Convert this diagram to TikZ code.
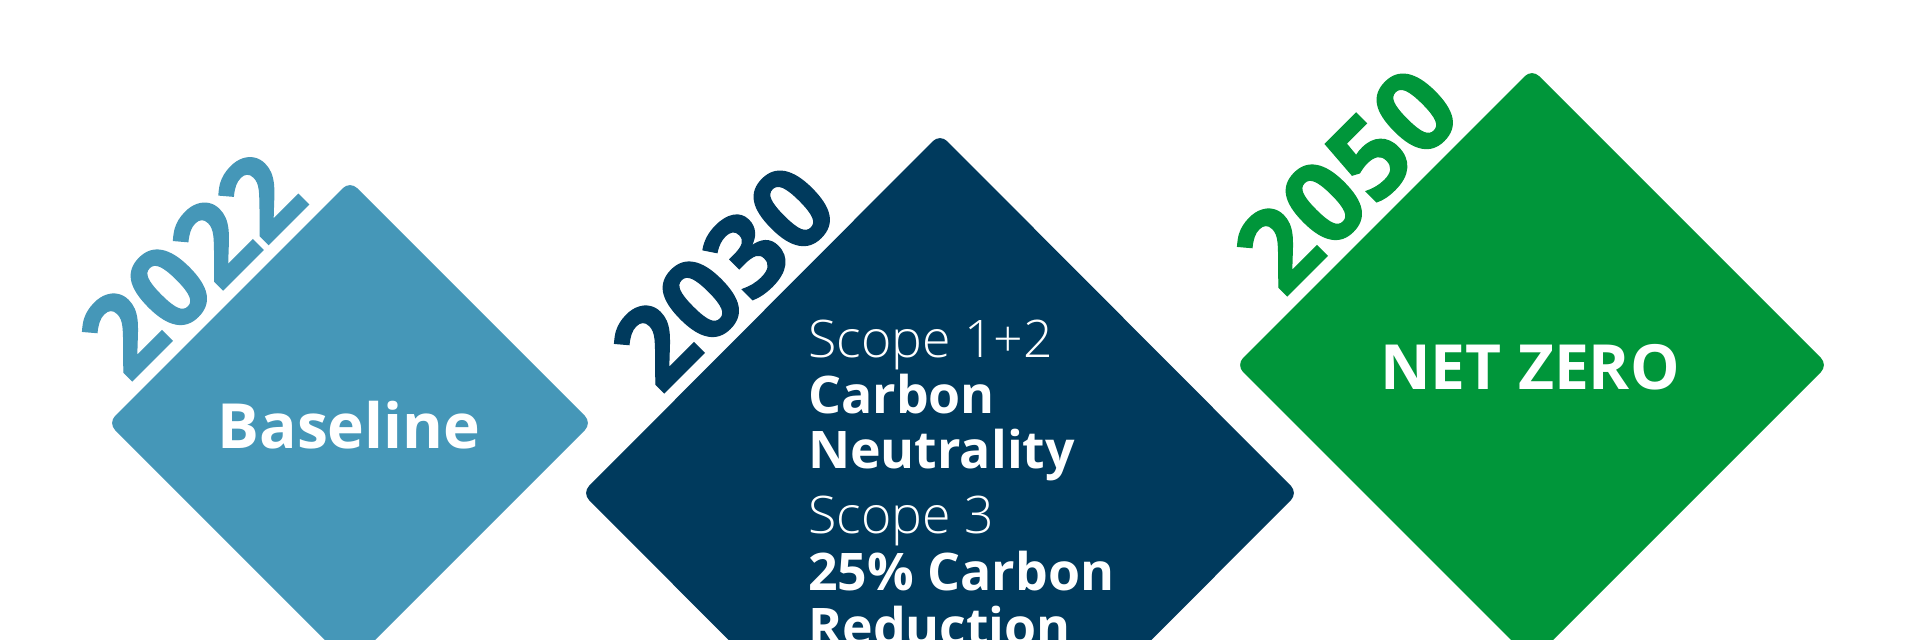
\documentclass[tikz,border=0pt]{standalone}
\usepackage{fontspec}
\setmainfont{Open Sans}
\IfFontExistsTF{Open Sans Light}{\newfontfamily\oslight{Open Sans Light}}{\newfontfamily\oslight{Open Sans}}
\newfontfamily\yearfont{Open Sans}[BoldFeatures={FakeBold=1.2}]
\definecolor{cbase}{HTML}{4597B8}
\definecolor{cnavy}{HTML}{003A5D}
\definecolor{cgreen}{HTML}{00963A}
\begin{document}
\begin{tikzpicture}[x=1bp,y=-1bp,
  diam/.style={rounded corners=10bp},
  year/.style={font=\yearfont\bfseries\fontsize{113}{113}\selectfont, anchor=base, rotate=45, inner sep=0pt},
  lbl/.style={font=\bfseries\fontsize{62.5}{62.5}\selectfont, text=white, anchor=base, inner sep=0pt},
  lightline/.style={font=\oslight\fontsize{52}{56}\selectfont, text=white, anchor=base west, inner sep=0pt},
  boldline/.style={font=\bfseries\fontsize{52}{56}\selectfont, text=white, anchor=base west, inner sep=0pt}]
\useasboundingbox (0,0) rectangle (1920,640);
\clip (0,0) rectangle (1920,640);
\fill[white] (0,0) rectangle (1920,640);
% diamonds
\fill[cbase, diam] (350,181) -- (592,423) -- (350,665) -- (108,423) -- cycle;
\fill[cnavy, diam] (940,134) -- (1298,493) -- (940,852) -- (582,493) -- cycle;
\fill[cgreen, diam] (1532,69) -- (1828,365) -- (1532,661) -- (1236,365) -- cycle;
% years
\node[year, text=cbase] (y2022) at (220,293) {2022};
\node[year, text=cnavy] (y2030) at (752,305) {2030};
\node[year, text=cgreen] (y2050) at (1375,208) {2050};
% labels
\node[lbl] (baseline) at (349,448) {Baseline};
\node[lbl] (netzero) at (1530,389) {NET ZERO};
\node[lightline] (s12) at (808,357) {Scope 1+2};
\node[boldline] (cn1) at (808,413) {Carbon};
\node[boldline] (cn2) at (808,468) {Neutrality};
\node[lightline] (s3) at (808,533) {Scope 3};
\node[boldline] (cr1) at (808,590) {25\% Carbon};
\node[boldline] (cr2) at (808,645) {Reduction};
\end{tikzpicture}
\end{document}
